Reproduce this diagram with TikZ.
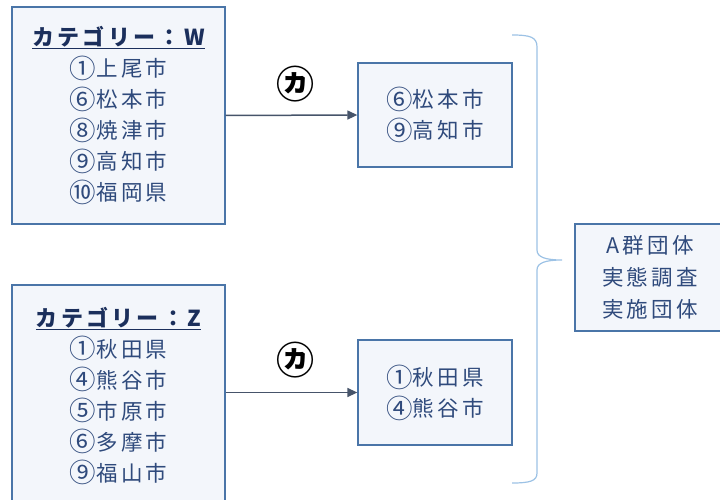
\documentclass[tikz,border=0pt]{standalone}
\usepackage{fontspec}
\setmainfont[LetterSpace=15]{Noto Sans CJK JP}
\usetikzlibrary{arrows.meta}
\definecolor{boxline}{HTML}{4A75A8}
\definecolor{boxfill}{HTML}{F3F6FB}
\definecolor{headc}{HTML}{1B2F5C}
\definecolor{itemc}{HTML}{2F4A7C}
\definecolor{arrowc}{HTML}{46546A}
\definecolor{bracec}{HTML}{9CC2E5}
% larger circled numbers
\newcommand{\cnum}[1]{\raisebox{-1.8pt}{\fontsize{26.5}{31}\selectfont #1}}

\begin{document}
\begin{tikzpicture}[x=1pt,y=-1pt,
    citybox/.style={draw=boxline,line width=1.3pt,fill=boxfill,text=itemc,
      align=center,inner sep=0pt,font=\fontsize{21.5}{31}\selectfont},
    flow/.style={draw=arrowc,line width=1.5pt,-{Triangle[length=10pt,width=9pt]}},
    kalabel/.style={font=\fontsize{38}{40}\selectfont\bfseries,text=black,inner sep=0pt}]
  \useasboundingbox (0,0) rectangle (720,500);
  \clip (0,0) rectangle (720,500);

  % categories
  \node[citybox,minimum width=213,minimum height=217] (catw) at (118.5,115.5)
    {{\color{headc}\bfseries\fontsize{22}{31}\selectfont\underline{カテゴリー：W}}\\
     \cnum{①}上尾市\\\cnum{⑥}松本市\\\cnum{⑧}焼津市\\\cnum{⑨}高知市\\\cnum{⑩}福岡県};
  \node[citybox,minimum width=213,minimum height=222] (catz) at (118.5,396)
    {{\color{headc}\bfseries\fontsize{22}{31}\selectfont\underline{カテゴリー：Z}}\\
     \cnum{①}秋田県\\\cnum{④}熊谷市\\\cnum{⑤}市原市\\\cnum{⑥}多摩市\\\cnum{⑨}福山市};

  % results
  \node[citybox,minimum width=154,minimum height=104] (resw) at (435,115) {\cnum{⑥}松本市\\\cnum{⑨}高知市};
  \node[citybox,minimum width=154,minimum height=105] (resz) at (435,392.5) {\cnum{①}秋田県\\\cnum{④}熊谷市};

  \draw[flow] (catw.east) -- (resw.west);
  \draw[flow] (catz.east |- resz.west) -- (resz.west);
  \node[kalabel] (kaw) at (295,84) {㋕};
  \node[kalabel] (kaz) at (295,360) {㋕};

  % brace
  \draw[bracec,line width=1.2pt] (512,35) .. controls (530,35) and (537,37) .. (537,47)
    -- (537,250) .. controls (537,257) and (545,260) .. (562,260)
    .. controls (545,260) and (537,263) .. (537,270)
    -- (537,473) .. controls (537,481) and (530,483) .. (512,483);

  \node[citybox,minimum width=150,minimum height=107,font=\fontsize{21.5}{32}\selectfont] (group) at (650,277.5)
    {A群団体\\実態調査\\実施団体};
\end{tikzpicture}
\end{document}
